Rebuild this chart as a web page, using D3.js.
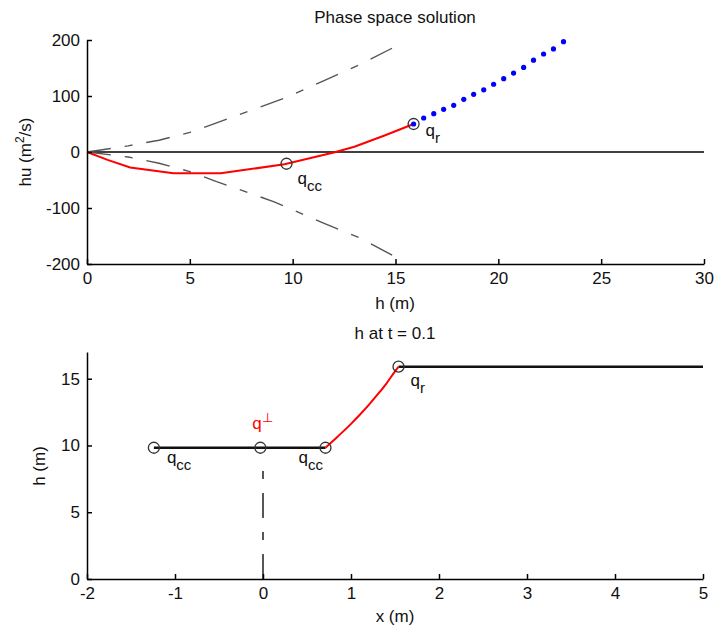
<!DOCTYPE html>
<html>
<head>
<meta charset="utf-8">
<script src="https://cdn.jsdelivr.net/npm/d3@7"></script>
<style>
  body { margin: 0; background: #fff; }
  text { font-family: "Liberation Sans", Arial, sans-serif; fill: #111; }
</style>
</head>
<body>
<div id="container"></div>
<script>
// ---- top panel: phase plane (h, hu) ----
const redPath = [[0, 0], [1, -14], [2.1, -27.5], [4.2, -38], [6.5, -38], [7.1, -35],
  [9.6, -22], [12, -1], [13, 9.5], [14.5, 30], [15.88, 50]];
const bluePath = [[15.88, 50], [16.37, 60.7], [16.86, 68.5], [17.34, 76.2], [17.83, 83.3],
  [18.32, 94], [18.8, 103], [19.29, 111], [19.77, 121], [20.26, 131], [20.74, 141],
  [21.23, 151], [21.71, 164], [22.2, 175], [22.68, 184], [23.17, 197]];
const upperCurve = [[0, 0], [2, 11], [3.5, 21], [5, 35], [6.3, 52], [7.8, 72],
  [9.8, 99], [11.5, 127], [13.2, 155], [15.3, 194]];
const lowerCurve = [[0, 0], [2, -9], [3.5, -20], [5, -35], [6.3, -53], [7.8, -72],
  [9.1, -89], [11.5, -127], [13.3, -154], [15.4, -195]];
const phaseMarks = [{ name: "cc", h: 9.7, hu: -21 }, { name: "r", h: 15.88, hu: 50 }];
const phaseXTicks = [0, 5, 10, 15, 20, 25, 30];
const phaseYTicks = [-200, -100, 0, 100, 200];

// ---- bottom panel: h(x) at t = 0.1 ----
const leftState = [[-1.24, 9.83], [0.71, 9.83]];
const rarefaction = [[0.71, 9.83], [0.8, 10.38], [0.9, 10.98], [1.0, 11.62], [1.1, 12.3],
  [1.2, 13.02], [1.3, 13.8], [1.4, 14.62], [1.5, 15.55], [1.54, 15.9]];
const rightState = [[1.54, 15.9], [5, 15.9]];
const interfaceLine = [[0, 0], [0, 8.2]];
const depthMarks = [{ name: "cc", x: -1.24, h: 9.83 }, { name: "perp", x: -0.03, h: 9.83 },
  { name: "cc", x: 0.71, h: 9.83 }, { name: "r", x: 1.54, h: 15.9 }];
const depthXTicks = [-2, -1, 0, 1, 2, 3, 4, 5];
const depthYTicks = [0, 5, 10, 15];

const width = 715, height = 630;
const fs = 17;

const svg = d3.select("#container").append("svg")
    .attr("width", width)
    .attr("height", height);

function axes(x, y, xTicks, yTicks) {
    const g = svg.append("g");
    g.append("g")
        .attr("transform", "translate(0," + y.range()[0] + ")")
        .call(d3.axisBottom(x).tickValues(xTicks).tickFormat(d => String(d))
            .tickSizeInner(-5).tickSizeOuter(0).tickPadding(8));
    g.append("g")
        .attr("transform", "translate(" + x.range()[0] + ",0)")
        .call(d3.axisLeft(y).tickValues(yTicks).tickFormat(d => String(d))
            .tickSizeInner(-5).tickSizeOuter(0).tickPadding(7));
    g.selectAll(".domain, .tick line").attr("stroke", "#000").attr("stroke-width", 1.5);
    g.selectAll(".tick text").attr("font-size", fs).attr("font-family", null);
    return g;
}

function qLabel(x, y, sub, opts = {}) {
    const t = svg.append("text")
        .attr("x", x).attr("y", y)
        .attr("font-size", fs)
        .style("fill", opts.color || "#111");
    t.append("tspan").text("q");
    if (opts.sup) {
        t.append("tspan").attr("dy", -7).attr("font-size", 13).text(sub);
    } else {
        t.append("tspan").attr("dy", 7).attr("font-size", 15).text(sub);
    }
}

// top panel
const x1 = d3.scaleLinear().domain([0, 30]).range([87, 704]);
const y1 = d3.scaleLinear().domain([-200, 200]).range([264, 40]);
const line1 = d3.line().x(d => x1(d[0])).y(d => y1(d[1]));

svg.append("path").datum([[0, 0], [30, 0]])
    .attr("d", line1).attr("fill", "none").attr("stroke", "#000").attr("stroke-width", 1.5);

[upperCurve, lowerCurve].forEach(c => {
    svg.append("path").datum(c)
        .attr("d", line1)
        .attr("fill", "none")
        .attr("stroke", "#555")
        .attr("stroke-width", 1.4)
        .attr("stroke-dasharray", "24,14,8,14");
});

svg.append("path").datum(redPath)
    .attr("d", line1).attr("fill", "none").attr("stroke", "#f00").attr("stroke-width", 2);

svg.append("g").selectAll("circle")
    .data(bluePath)
    .enter().append("circle")
    .attr("cx", d => x1(d[0]))
    .attr("cy", d => y1(d[1]))
    .attr("r", 2.6)
    .attr("fill", "#00f");

svg.append("g").selectAll("circle")
    .data(phaseMarks)
    .enter().append("circle")
    .attr("cx", d => x1(d.h))
    .attr("cy", d => y1(d.hu))
    .attr("r", 5.5)
    .attr("fill", "none")
    .attr("stroke", "#333")
    .attr("stroke-width", 1.3);

axes(x1, y1, phaseXTicks, phaseYTicks);

qLabel(x1(9.7) + 11, y1(-21) + 20, "cc");
qLabel(x1(15.88) + 12, y1(50) + 12, "r");

svg.append("text").attr("x", 395).attr("y", 23)
    .attr("text-anchor", "middle").attr("font-size", fs)
    .text("Phase space solution");
svg.append("text").attr("x", 395).attr("y", 309)
    .attr("text-anchor", "middle").attr("font-size", fs)
    .text("h (m)");
const yl1 = svg.append("text")
    .attr("transform", "translate(31,152) rotate(-90)")
    .attr("text-anchor", "middle").attr("font-size", fs);
yl1.append("tspan").text("hu (m");
yl1.append("tspan").attr("dy", -7).attr("font-size", 12).text("2");
yl1.append("tspan").attr("dy", 7).text("/s)");

// bottom panel
const x2 = d3.scaleLinear().domain([-2, 5]).range([87, 703]);
const y2 = d3.scaleLinear().domain([0, 17]).range([579, 352]);
const line2 = d3.line().x(d => x2(d[0])).y(d => y2(d[1]));

svg.append("path").datum(interfaceLine)
    .attr("d", line2).attr("fill", "none").attr("stroke", "#111")
    .attr("stroke-width", 1.4).attr("stroke-dasharray", "25,14,8,14");

[leftState, rightState].forEach(s => {
    svg.append("path").datum(s)
        .attr("d", line2).attr("fill", "none").attr("stroke", "#111").attr("stroke-width", 2.4);
});

svg.append("path").datum(rarefaction)
    .attr("d", d3.line().curve(d3.curveMonotoneX).x(d => x2(d[0])).y(d => y2(d[1])))
    .attr("fill", "none").attr("stroke", "#f00").attr("stroke-width", 2);

svg.append("g").selectAll("circle")
    .data(depthMarks)
    .enter().append("circle")
    .attr("cx", d => x2(d.x))
    .attr("cy", d => y2(d.h))
    .attr("r", 5.5)
    .attr("fill", "none")
    .attr("stroke", "#333")
    .attr("stroke-width", 1.3);

axes(x2, y2, depthXTicks, depthYTicks);

qLabel(x2(-1.24) + 13, y2(9.83) + 15, "cc");
qLabel(x2(0.71) - 27, y2(9.83) + 15, "cc");
qLabel(x2(1.54) + 12, y2(15.9) + 19, "r");
qLabel(x2(-0.03) - 8, y2(9.83) - 19, "\u22a5", { sup: true, color: "#f00" });

svg.append("text").attr("x", 395).attr("y", 339)
    .attr("text-anchor", "middle").attr("font-size", fs)
    .text("h at t = 0.1");
svg.append("text").attr("x", 395).attr("y", 622)
    .attr("text-anchor", "middle").attr("font-size", fs)
    .text("x (m)");
svg.append("text")
    .attr("transform", "translate(45,466) rotate(-90)")
    .attr("text-anchor", "middle").attr("font-size", fs)
    .text("h (m)");
</script>
</body>
</html>
